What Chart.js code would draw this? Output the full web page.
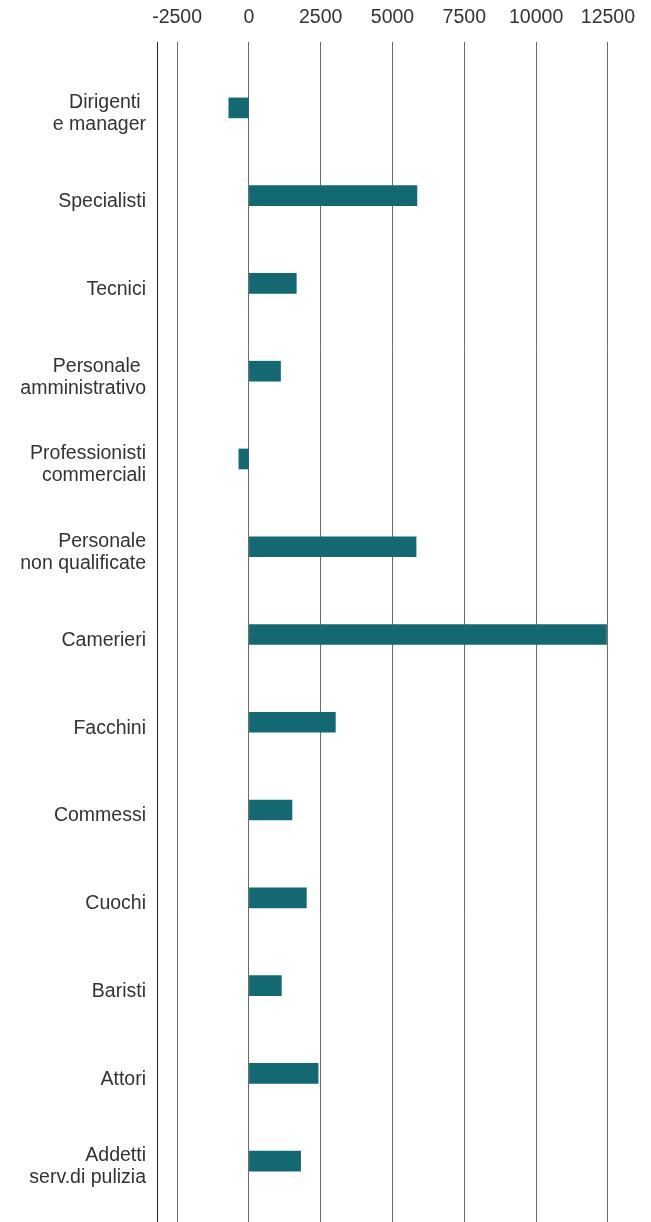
<!DOCTYPE html>
<html>
<head>
<meta charset="utf-8">
<script src="https://cdn.jsdelivr.net/npm/chart.js@4"></script>
<style>
  html, body { margin: 0; padding: 0; background: #fff; }
  #wrap { width: 651px; height: 1222px; position: relative; }
</style>
</head>
<body>
<div id="wrap"><canvas id="chart"></canvas></div>
<script>
// categories (multi-line labels as arrays, trailing spaces kept as in the original)
const categories = [
  ['Dirigenti ', 'e manager'],
  'Specialisti',
  'Tecnici',
  ['Personale ', 'amministrativo'],
  ['Professionisti', 'commerciali'],
  ['Personale', 'non qualificate'],
  'Camerieri',
  'Facchini',
  'Commessi',
  'Cuochi',
  'Baristi',
  'Attori',
  ['Addetti', 'serv.di pulizia'],
];

// values
const values = [-700, 5850, 1650, 1100, -350, 5820, 12450, 3010, 1500, 2000, 1130, 2410, 1800];

const X_MIN = -3200;
const X_MAX = 14000;
const X_STEP = 2500;

const BAR = '#136872';
const INK = '#333';
const FONT = { family: '"Liberation Sans", Arial, sans-serif', size: 19.5, lineHeight: 22 / 19.5 };

// keep the left edge line (at min) and the 2500 multiples only
function keepTicks(axis) {
  axis.ticks = axis.ticks.filter(t => t.value === X_MIN || (t.value % X_STEP === 0 && t.value < X_MAX));
}
const gridColor = c => (c.tick && c.tick.value === X_MIN) ? '#222' : '#6a6a6a';

new Chart(document.getElementById('chart'), {
  type: 'bar',
  data: {
    labels: categories,
    datasets: [{
      data: values,
      backgroundColor: BAR,
      borderWidth: 0,
      barThickness: 20,
    }],
  },
  options: {
    indexAxis: 'y',
    responsive: true, maintainAspectRatio: false,
    animation: false,
    layout: { padding: 0 },
    plugins: { legend: { display: false }, tooltip: { enabled: false } },
    scales: {
      x: {
        position: 'top',
        min: X_MIN, max: X_MAX,
        afterBuildTicks: keepTicks,
        afterFit: s => { s.height = 64; },
        border: { display: false },
        grid: { color: gridColor, lineWidth: 1, tickLength: 22 },
        ticks: {
          stepSize: 100, autoSkip: false, maxRotation: 0,
          color: INK, font: FONT, padding: 13,
          labelOffset: c => (c.tick && c.tick.value !== 0) ? 5 : 0,
          callback: v => v === X_MIN ? '' : String(v),
        },
      },
      x2: {
        axis: 'x',
        position: 'bottom',
        min: X_MIN, max: X_MAX,
        afterBuildTicks: keepTicks,
        afterFit: s => { s.height = 17; },
        border: { display: false },
        grid: { color: gridColor, lineWidth: 1, tickLength: 17, drawOnChartArea: false },
        ticks: { display: false, stepSize: 100 },
      },
      y: {
        position: 'left',
        afterFit: s => { s.width = 157; s.paddingTop = 0; s.paddingBottom = 0; },
        border: { display: false },
        grid: { display: false, drawTicks: false },
        ticks: { color: INK, font: FONT, padding: 11, labelOffset: 6, autoSkip: false },
      },
    },
  },
});
</script>
</body>
</html>
